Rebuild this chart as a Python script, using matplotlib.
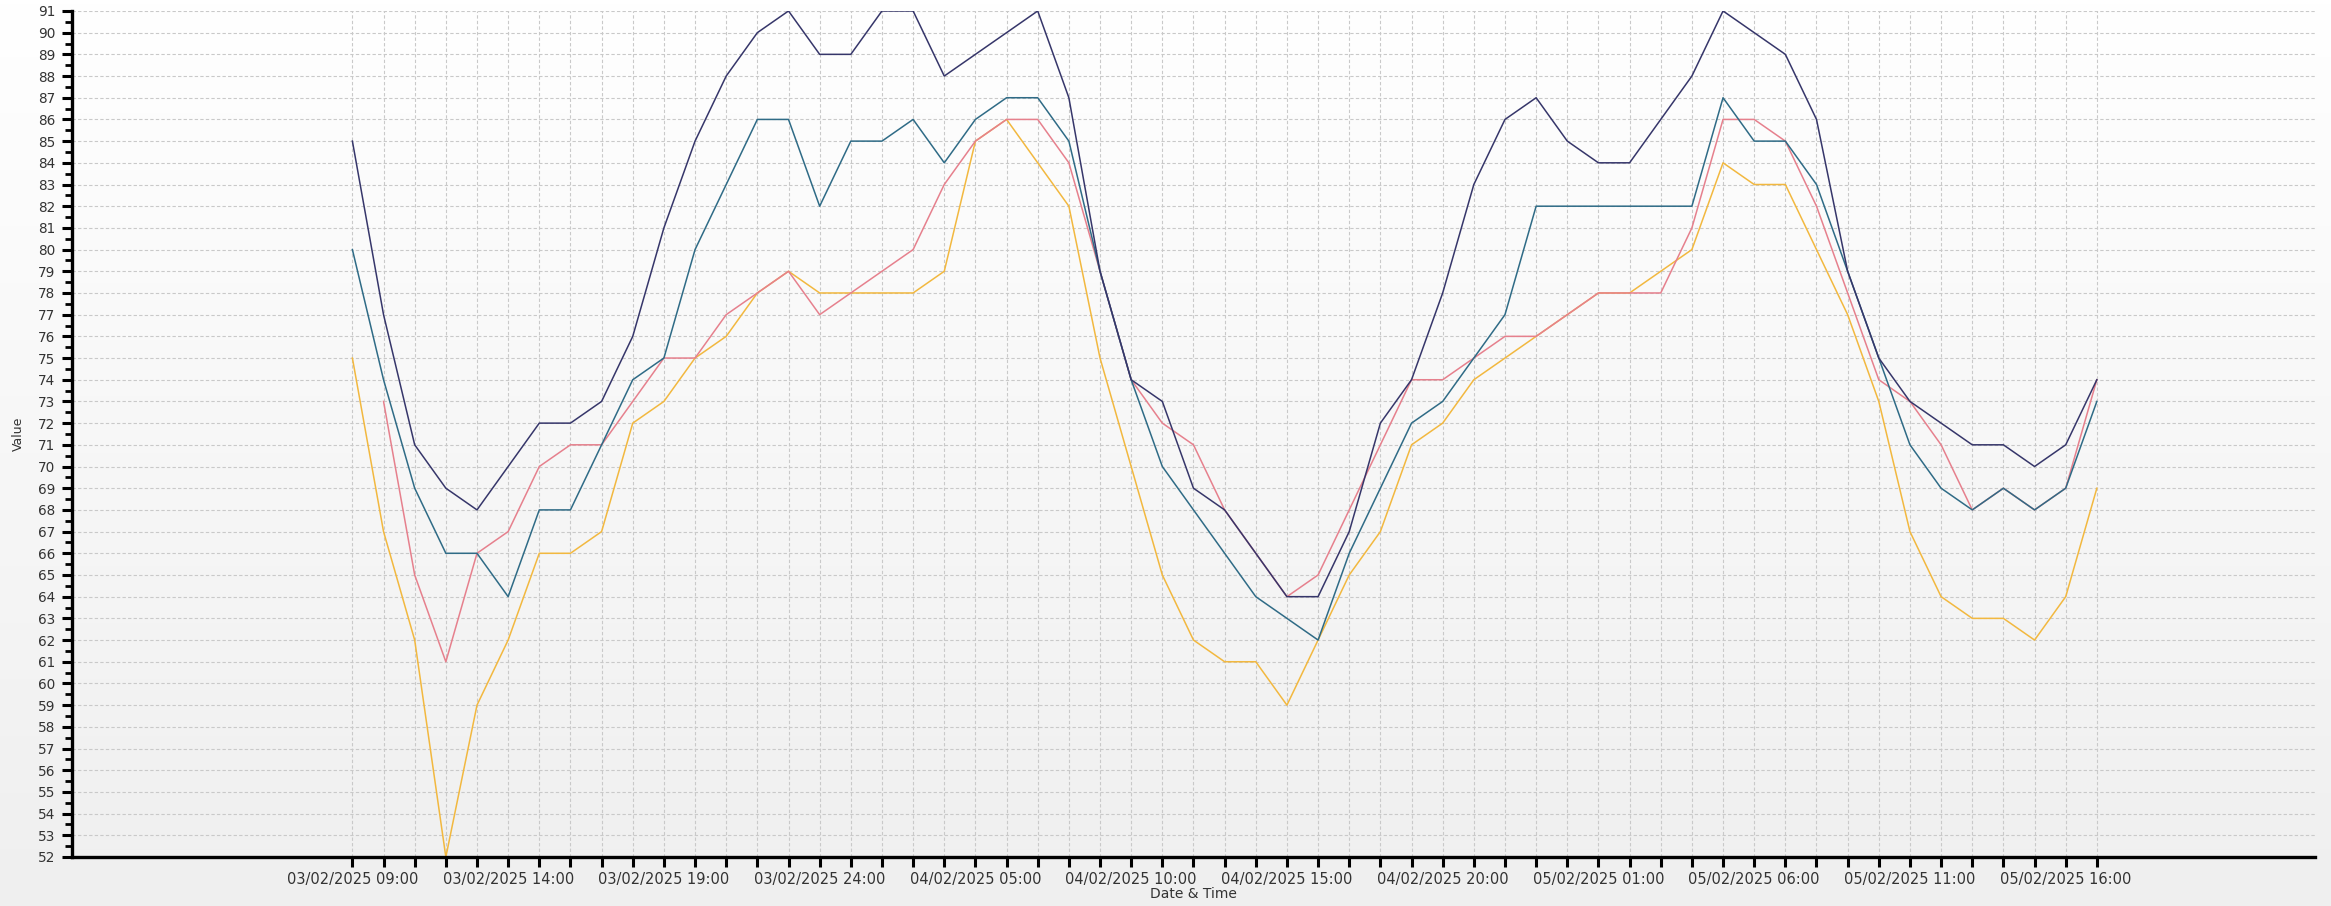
import matplotlib
matplotlib.use('Agg')  # no display
import matplotlib.pyplot as plt
import numpy as np
from matplotlib.colors import LinearSegmentedColormap
from matplotlib.ticker import MultipleLocator

# Hourly readings, 03/02/2025 09:00 .. 05/02/2025 17:00 (57 points)
navy_values = [85, 77, 71, 69, 68, 70, 72, 72, 73, 76, 81, 85, 88, 90, 91,
               89, 89, 91, 91, 88, 89, 90, 91, 87, 79, 74, 73, 69, 68, 66, 64,
               64, 67, 72, 74, 78, 83, 86, 87, 85, 84, 84, 86, 88, 91, 90, 89,
               86, 79, 75, 73, 72, 71, 71, 70, 71, 74]
teal_values = [80, 74, 69, 66, 66, 64, 68, 68, 71, 74, 75, 80, 83, 86, 86,
               82, 85, 85, 86, 84, 86, 87, 87, 85, 79, 74, 70, 68, 66, 64, 63,
               62, 66, 69, 72, 73, 75, 77, 82, 82, 82, 82, 82, 82, 87, 85, 85,
               83, 79, 75, 71, 69, 68, 69, 68, 69, 73]
pink_values = [np.nan, 73, 65, 61, 66, 67, 70, 71, 71, 73, 75, 75, 77, 78, 79,
               77, 78, 79, 80, 83, 85, 86, 86, 84, 79, 74, 72, 71, 68, 66, 64,
               65, 68, 71, 74, 74, 75, 76, 76, 77, 78, 78, 78, 81, 86, 86, 85,
               82, 78, 74, 73, 71, 68, 69, 68, 69, 74]
orange_values = [75, 67, 62, 52, 59, 62, 66, 66, 67, 72, 73, 75, 76, 78, 79,
                 78, 78, 78, 78, 79, 85, 86, 84, 82, 75, 70, 65, 62, 61, 61, 59,
                 62, 65, 67, 71, 72, 74, 75, 76, 77, 78, 78, 79, 80, 84, 83, 83,
                 80, 77, 73, 67, 64, 63, 63, 62, 64, 69]

# Labels shown on every 5th hourly tick
tick_labels = ['03/02/2025 09:00', '03/02/2025 14:00', '03/02/2025 19:00',
               '03/02/2025 24:00', '04/02/2025 05:00', '04/02/2025 10:00',
               '04/02/2025 15:00', '04/02/2025 20:00', '05/02/2025 01:00',
               '05/02/2025 06:00', '05/02/2025 11:00', '05/02/2025 16:00']
label_step = 5

plt.rcParams['font.family'] = ['DejaVu Sans']

fig = plt.figure(figsize=(23.31, 9.06), dpi=100)

# Soft vertical gradient behind everything
bg = fig.add_axes([0, 0, 1, 1], zorder=-10)
grad = np.linspace(0, 1, 256).reshape(-1, 1)
bg_cmap = LinearSegmentedColormap.from_list('bg', ['#ffffff', '#efefef'])
bg.imshow(grad, aspect='auto', cmap=bg_cmap, extent=[0, 1, 0, 1])
bg.axis('off')

ax = fig.add_axes([0.0309, 0.0541, 0.9622, 0.9338])
ax.patch.set_alpha(0)

x = np.arange(len(navy_values))
ax.plot(x, orange_values, color='#f2b83f', lw=1.1)
ax.plot(x, pink_values, color='#e6808d', lw=1.1)
ax.plot(x, teal_values, color='#2f6b86', lw=1.1)
ax.plot(x, navy_values, color='#36366a', lw=1.1)

# Axes ranges and ticks
ax.set_xlim(-9, 63)
ax.set_ylim(52, 91)
labels = [''] * len(x)
for k, lab in enumerate(tick_labels):
    labels[k * label_step] = lab
ax.set_xticks(x)
ax.set_xticklabels(labels, fontsize=10.5, color='#333333')
ax.set_yticks(np.arange(52, 92))
ax.yaxis.set_minor_locator(MultipleLocator(0.5))
ax.tick_params(axis='y', labelsize=9.8, labelcolor='#333333', pad=5)
ax.tick_params(axis='both', which='major', direction='out', length=7,
               width=2.2, color='black')
ax.tick_params(axis='y', which='minor', direction='out', length=5,
               width=2.0, color='black')
ax.tick_params(axis='x', pad=4)

ax.grid(True, which='major', color='#c9c9c9', linestyle=(0, (3, 2)), lw=0.8)
ax.set_axisbelow(True)

for side in ['top', 'right']:
    ax.spines[side].set_visible(False)
for side in ['left', 'bottom']:
    ax.spines[side].set_linewidth(2.4)
    ax.spines[side].set_color('black')

ax.set_ylabel('Value', fontsize=9, color='#333333')
ax.yaxis.set_label_coords(-0.021, 0.5)
ax.set_xlabel('Date & Time', fontsize=10, color='#333333')
ax.xaxis.set_label_coords(0.5, -0.036)

fig.savefig('out.png', dpi=100)
plt.close(fig)
